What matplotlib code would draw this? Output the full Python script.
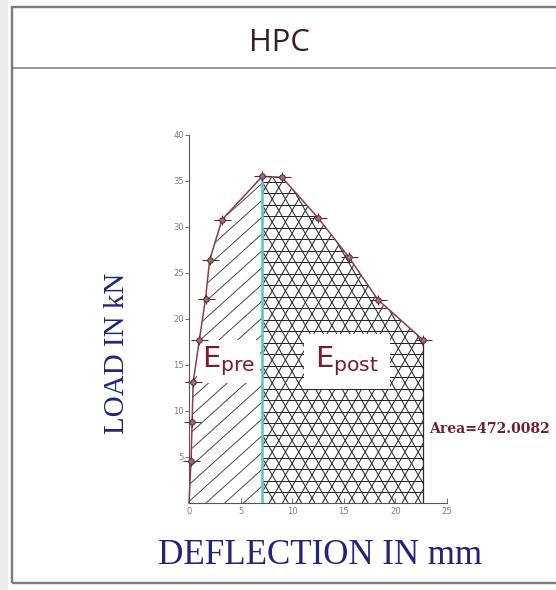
import numpy as np
import matplotlib
matplotlib.use("Agg")
import matplotlib.pyplot as plt
from matplotlib.collections import LineCollection
from matplotlib.transforms import IdentityTransform
from matplotlib.patches import Rectangle
from matplotlib.lines import Line2D

# load-deflection points for the HPC specimen
deflection = [0.0, 0.2, 0.3, 0.4, 1.0, 1.6, 2.0, 3.2, 7.1, 9.0, 12.5, 15.5, 18.3, 22.7]
load = [0.0, 4.6, 8.8, 13.1, 17.7, 22.2, 26.4, 30.8, 35.5, 35.4, 31.0, 26.7, 22.1, 17.7]
peak_deflection = 7.1
area_text = "Area=472.0082"

x_ticks = [0, 5, 10, 15, 20, 25]
y_ticks = [0, 5, 10, 15, 20, 25, 30, 35, 40]

W, H, DPI = 556, 590, 72
fig = plt.figure(figsize=(W / DPI, H / DPI), dpi=DPI)
fig.patch.set_facecolor("white")

# outer panel frame with title band (kept behind the axes)
frame_col = "#7c7c7c"
fig.add_artist(Rectangle((0, 0), 8 / W, 1, transform=fig.transFigure,
                         facecolor="#ececec", edgecolor="none", zorder=-5))
fig.add_artist(Rectangle((12 / W, 1 - 583 / H), 1.0, (583 - 7) / H,
                         transform=fig.transFigure, facecolor="none",
                         edgecolor=frame_col, linewidth=2.4, zorder=-5))
fig.add_artist(Line2D([12 / W, 1], [1 - 68 / H] * 2, transform=fig.transFigure,
                      color=frame_col, linewidth=1.6, zorder=-5))
fig.text(279 / W, 1 - 43 / H, "HPC", ha="center", va="center",
         fontsize=31, family="Open Sans", color="#3a1f24")

ax = fig.add_axes([189 / W, 1 - 503 / H, 258 / W, 368 / H])
ax.patch.set_alpha(0)
ax.set_xlim(0, 25)
ax.set_ylim(0, 40)
for s in ["top", "right"]:
    ax.spines[s].set_visible(False)
for s in ["left", "bottom"]:
    ax.spines[s].set_color("#555555")
    ax.spines[s].set_linewidth(1.1)
ax.set_xticks(x_ticks)
ax.set_yticks(y_ticks[1:])
ax.tick_params(axis="x", direction="in", length=5, colors="#555555",
               labelcolor="#808080", labelsize=8.5, pad=4)
ax.tick_params(axis="y", direction="out", length=4, colors="#555555",
               labelcolor="#808080", labelsize=8.5, pad=1)

x = np.array(deflection)
y = np.array(load)


def hatch_lines(ax, region, angles, spacing, color, lw):
    # straight hatch lines across the figure, clipped to the filled region
    diag = np.hypot(W, H)
    segs = []
    for a in angles:
        t = np.deg2rad(a)
        d = np.array([np.cos(t), np.sin(t)])
        n = np.array([-d[1], d[0]])
        for k in np.arange(-diag, diag, spacing):
            c = n * k
            segs.append([c - d * diag, c + d * diag])
    lc = LineCollection(segs, colors=color, linewidths=lw,
                        transform=IdentityTransform(), zorder=2)
    ax.add_collection(lc, autolim=False)
    lc.set_clip_path(region.get_paths()[0], ax.transData)


pre = x <= peak_deflection
post = x >= peak_deflection
pre_fill = ax.fill_between(x[pre], y[pre], 0, facecolor="white",
                           edgecolor="none", zorder=1)
post_fill = ax.fill_between(x[post], y[post], 0, facecolor="white",
                            edgecolor="none", zorder=1)
hatch_lines(ax, pre_fill, [42], 12.5, "#3c3c3c", 0.9)
hatch_lines(ax, post_fill, [0, 60, 120], 11.5, "#262626", 1.0)

ax.vlines(peak_deflection, 0, y[x == peak_deflection][0], color="#5cc6c8",
          linewidth=2.6, zorder=3)
ax.vlines(x[-1], 0, y[-1], color="#2a2a2a", linewidth=1.3, zorder=3)

# region labels sit on white boxes above the hatching, below the curve
label_col = "#7a1c2c"
ax.text(1.25, 15.4, r"$\mathrm{E}_{\mathrm{pre}}$", fontsize=29,
        color=label_col, va="center", ha="left", zorder=3.5,
        bbox=dict(facecolor="white", edgecolor="none", pad=5))
ax.text(12.2, 15.4, r"$\mathrm{E}_{\mathrm{post}}$", fontsize=29,
        color=label_col, va="center", ha="left", zorder=3.5,
        bbox=dict(facecolor="white", edgecolor="none", pad=11))

# load-deflection curve with cross-hair markers
curve_col = "#8c3a4c"
ax.plot(x, y, color=curve_col, linewidth=1.5, zorder=4, clip_on=False)
ax.plot(x[1:], y[1:], linestyle="none", marker="_", markersize=17,
        markeredgewidth=1.1, color="#5a2a35", zorder=5, clip_on=False)
ax.plot(x[1:], y[1:], linestyle="none", marker="|", markersize=10,
        markeredgewidth=1.1, color="#5a2a35", zorder=5, clip_on=False)
ax.plot(x[1:], y[1:], linestyle="none", marker="o", markersize=5.5,
        markerfacecolor="#9a7078", markeredgecolor="#5a2a35",
        markeredgewidth=1.0, zorder=6, clip_on=False)

ax.text(23.3, 8.0, area_text, fontsize=14, family="DejaVu Serif",
        fontweight="bold", color="#6e2030", va="center", ha="left",
        clip_on=False)

fig.text(117 / W, 1 - 353 / H, "LOAD IN kN", rotation=90, ha="center",
         va="center", fontsize=29, family="Liberation Serif", color="#23237a")
fig.text(320 / W, 1 - 555 / H, "DEFLECTION IN mm", ha="center", va="center",
         fontsize=35, family="Liberation Serif", color="#23237a")

fig.savefig("out.png", dpi=DPI)
